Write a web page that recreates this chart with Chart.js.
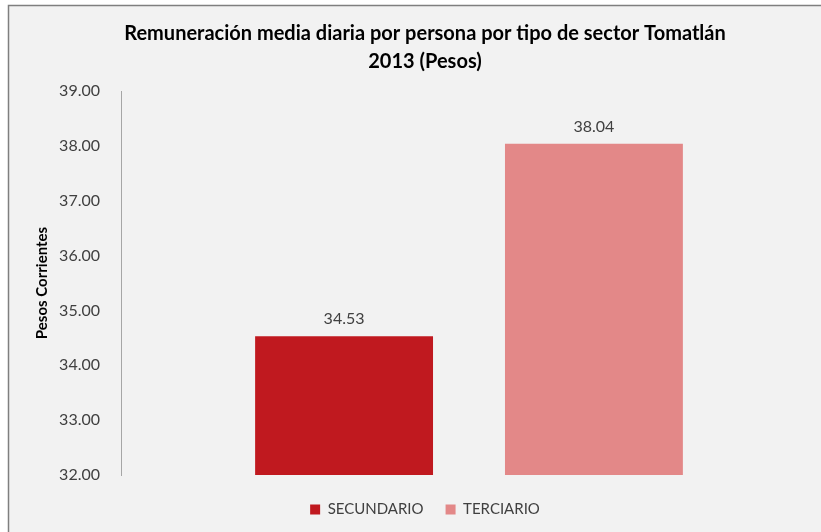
<!DOCTYPE html>
<html>
<head>
<meta charset="utf-8">
<script src="https://cdn.jsdelivr.net/npm/chart.js@4"></script>
<style>
  html, body { margin: 0; padding: 0; background: #fff; }
  #wrap { width: 821px; height: 532px; }
</style>
</head>
<body>
<div id="wrap"><canvas id="remChart" width="821" height="532"></canvas></div>
<script>
// Remuneración media diaria por sector - Tomatlán 2013
const categories = [""];
const seriesNames = ["SECUNDARIO", "TERCIARIO"];
const secundario = [34.53];
const terciario = [38.04];
const yTicks = [32, 33, 34, 35, 36, 37, 38, 39];

const FONT = "Lato, 'Open Sans', sans-serif";

// frame + light gray background like the original image
const framePlugin = {
  id: "frame",
  beforeDraw(chart) {
    const ctx = chart.ctx;
    ctx.save();
    ctx.fillStyle = "#ffffff";
    ctx.fillRect(0, 0, chart.width, chart.height);
    ctx.fillStyle = "#f2f2f2";
    ctx.fillRect(8, 5, chart.width - 8, chart.height - 5);
    ctx.strokeStyle = "#7f7f7f";
    ctx.lineWidth = 1.5;
    ctx.beginPath();
    ctx.moveTo(8.5, chart.height);
    ctx.lineTo(8.5, 5.5);
    ctx.lineTo(chart.width, 5.5);
    ctx.stroke();
    ctx.restore();
  },
};

// value labels above bars
const valueLabels = {
  id: "valueLabels",
  afterDatasetsDraw(chart) {
    const ctx = chart.ctx;
    ctx.save();
    ctx.font = "16px " + FONT;
    ctx.fillStyle = "#404040";
    ctx.textAlign = "center";
    ctx.textBaseline = "middle";
    chart.data.datasets.forEach((ds, i) => {
      chart.getDatasetMeta(i).data.forEach((bar, j) => {
        ctx.fillText(ds.data[j].toFixed(2), bar.x, bar.y - 17);
      });
    });
    ctx.restore();
  },
};

new Chart(document.getElementById("remChart"), {
  type: "bar",
  data: {
    labels: categories,
    datasets: [
      {
        label: seriesNames[0],
        data: secundario,
        backgroundColor: "#c0191f",
        barPercentage: 0.712,
        categoryPercentage: 0.718,
      },
      {
        label: seriesNames[1],
        data: terciario,
        backgroundColor: "#e38888",
        barPercentage: 0.712,
        categoryPercentage: 0.718,
      },
    ],
  },
  options: {
    responsive: false,
    animation: false,
    layout: {
      padding: { left: 33, right: 4, top: 0, bottom: 5 },
    },
    plugins: {
      title: {
        display: true,
        text: [
          "Remuneración media diaria por persona por tipo de sector Tomatlán",
          "2013 (Pesos)",
        ],
        font: { family: FONT, size: 20, weight: "bold", lineHeight: 1.4 },
        color: "#000000",
        padding: { top: 20, bottom: 15 },
      },
      legend: {
        position: "bottom",
        labels: {
          font: { family: FONT, size: 15 },
          color: "#404040",
          boxWidth: 10,
          boxHeight: 10,
          padding: 22,
        },
      },
      tooltip: { enabled: false },
    },
    scales: {
      x: {
        display: true,
        grid: { display: false, drawTicks: false },
        border: { display: false },
        ticks: { display: false },
        afterFit: (axis) => {
          axis.height = 5;
        },
      },
      y: {
        min: 32,
        max: 39,
        afterBuildTicks: (axis) => {
          axis.ticks = yTicks.map((v) => ({ value: v }));
        },
        afterFit: (axis) => {
          axis.width = 88;
        },
        grid: { display: false, drawTicks: false },
        border: { display: true, color: "#a6a6a6", width: 1 },
        ticks: {
          padding: 21,
          color: "#404040",
          font: { family: FONT, size: 16 },
          callback: (v) => Number(v).toFixed(2),
        },
        title: {
          display: true,
          text: "Pesos Corrientes",
          color: "#000000",
          font: { family: FONT, size: 15, weight: "bold" },
          padding: 0,
        },
      },
    },
  },
  plugins: [framePlugin, valueLabels],
});
</script>
</body>
</html>
